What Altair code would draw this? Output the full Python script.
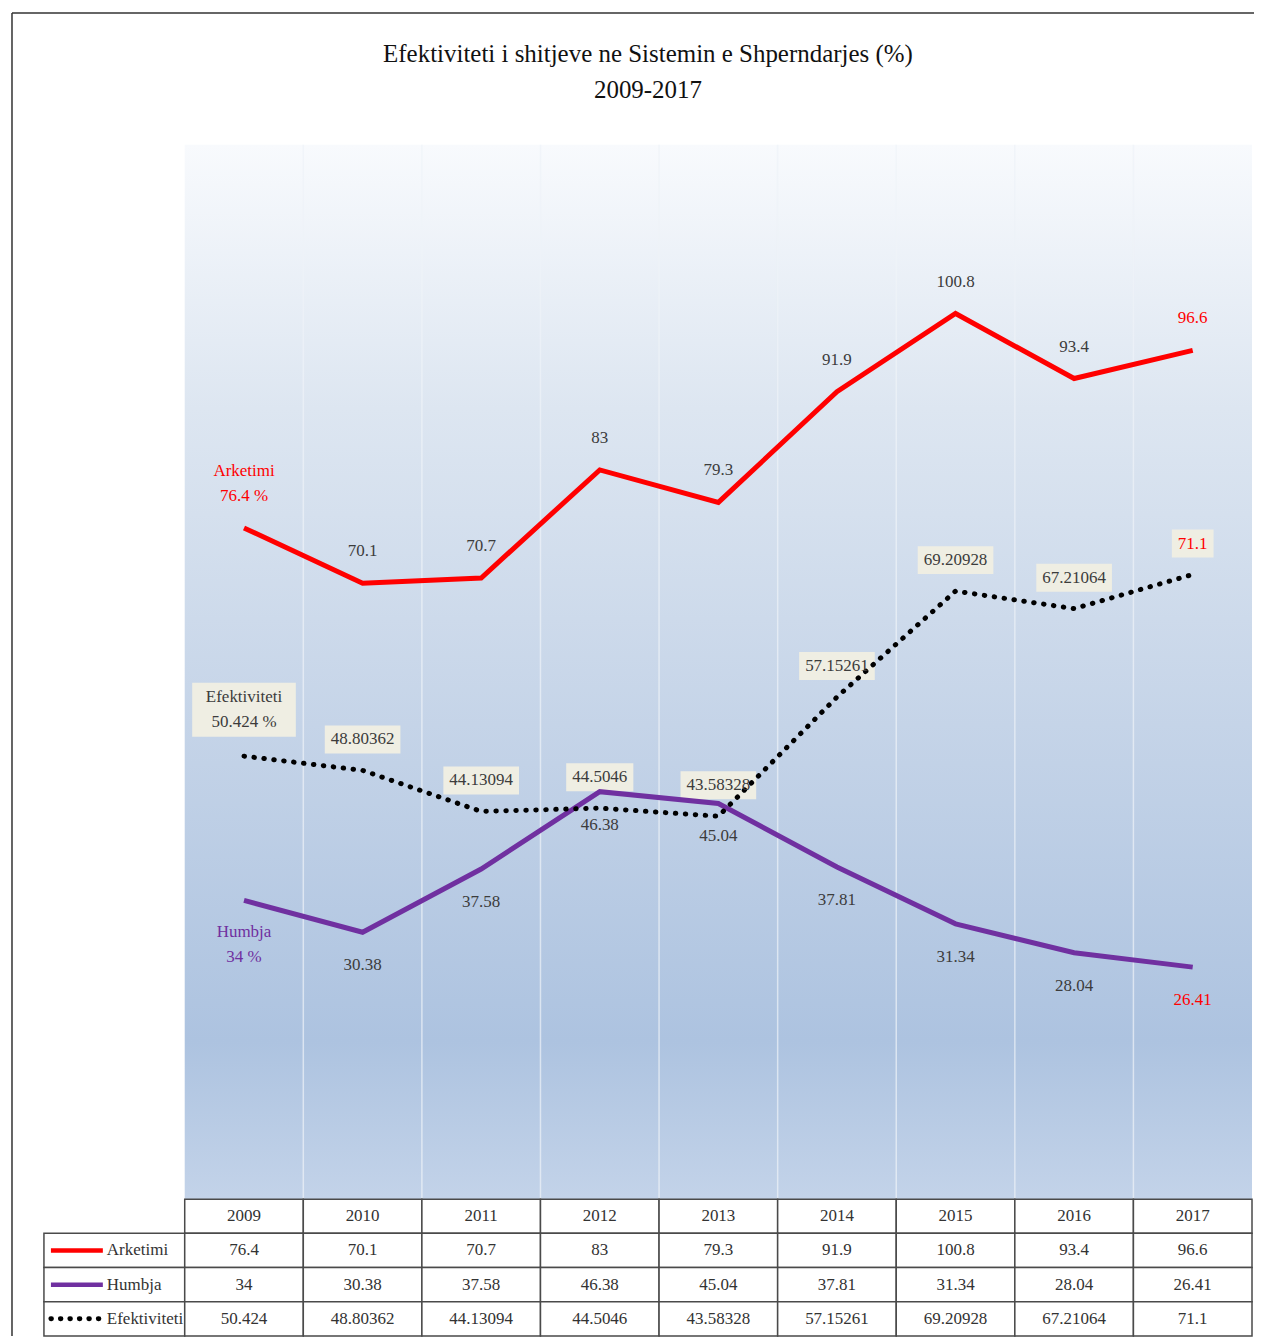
import altair as alt
import pandas as pd

# ---------------- data ----------------
years = [2009, 2010, 2011, 2012, 2013, 2014, 2015, 2016, 2017]
arketimi = [76.4, 70.1, 70.7, 83, 79.3, 91.9, 100.8, 93.4, 96.6]
humbja = [34, 30.38, 37.58, 46.38, 45.04, 37.81, 31.34, 28.04, 26.41]
efektiviteti = [50.424, 48.80362, 44.13094, 44.5046, 43.58328, 57.15261, 69.20928, 67.21064, 71.1]
series_names = ["Arketimi", "Humbja", "Efektiviteti"]
title_lines = ["Efektiviteti i shitjeve ne Sistemin e Shperndarjes (%)", "2009-2017"]

# ---------------- style ----------------
RED = "#FF0000"
PURPLE = "#7030A0"
BLACK = "#000000"
LABEL = "#3c3c3c"
TABLE_TXT = "#333333"
BOX = "#EFEEE3"
FONT = "Liberation Serif"
DOT_DASH = [0.5, 9.5]
SYM_DASH = [0.5, 9]

# ---------------- geometry (pixels) ----------------
YEAR_COL_PX = 1069 / 9
LABEL_COL_PX = 141
PY = 8.8           # px per percentage point
ROW_PX = 34.25
Y_TOP = 120

X0 = years[0] - 0.5
X1 = years[-1] + 0.5
XMIN = X0 - LABEL_COL_PX / YEAR_COL_PX
ROW = ROW_PX / PY
YMIN = -4 * ROW
W = round((X1 - XMIN) * YEAR_COL_PX)
H = round((Y_TOP - YMIN) * PY)

xs = alt.Scale(domain=[XMIN, X1], nice=False, zero=False)
ys = alt.Scale(domain=[YMIN, Y_TOP], nice=False, zero=False)
X = lambda f="x": alt.X(f"{f}:Q", scale=xs, axis=None)
Y = lambda f="y": alt.Y(f"{f}:Q", scale=ys, axis=None)


def fmt(v):
    return ("%.6f" % v).rstrip("0").rstrip(".")


CW = {"0": .5, "1": .5, "2": .5, "3": .5, "4": .5, "5": .5, "6": .5, "7": .5, "8": .5, "9": .5,
      ".": .25, " ": .25, "%": .833}


def text_w(s, size):
    return sum(CW.get(ch, .45) for ch in s) * size


series_vals = [arketimi, humbja, efektiviteti]

# ---------------- background ----------------
bg_df = pd.DataFrame({"x": [X0], "x2": [X1], "y": [0], "y2": [Y_TOP]})
grad = alt.LinearGradient(
    gradient="linear",
    stops=[alt.GradientStop(color="#f8fafd", offset=0),
           alt.GradientStop(color="#dde6f1", offset=0.25),
           alt.GradientStop(color="#c5d4e8", offset=0.55),
           alt.GradientStop(color="#adc3e0", offset=0.85),
           alt.GradientStop(color="#c3d3e9", offset=1)],
    x1=0, x2=0, y1=0, y2=1)
bg = alt.Chart(bg_df).mark_rect(color=grad).encode(
    x=X(), x2="x2:Q", y=Y(), y2="y2:Q")

grid_df = pd.DataFrame({"x": [yr + 0.5 for yr in years[:-1]], "y": 0, "y2": Y_TOP})
grid = alt.Chart(grid_df).mark_rule(color="#eef2f8", strokeWidth=1.5, opacity=0.7).encode(
    x=X(), y=Y(), y2="y2:Q")

# ---------------- lines ----------------
def line_df(vals):
    return pd.DataFrame({"x": years, "y": vals})

line_a = alt.Chart(line_df(arketimi)).mark_line(color=RED, strokeWidth=5).encode(x=X(), y=Y())
line_h = alt.Chart(line_df(humbja)).mark_line(color=PURPLE, strokeWidth=5).encode(x=X(), y=Y())
line_e = alt.Chart(line_df(efektiviteti)).mark_line(
    color=BLACK, strokeWidth=5, strokeDash=DOT_DASH, strokeCap="round").encode(x=X(), y=Y())

# ---------------- labels ----------------
label_cfg = [
    # series index, offset of value labels, offset of first value, offset of name line, first colour, value colour
    (0, -32, -32, -57, RED, LABEL),
    (1, 33, 57, 32, PURPLE, LABEL),
    (2, -31, -34, -59, LABEL, LABEL),
]
LBL_SIZE = 17

layers_boxes = []
layers_text = []
for si, dy, first_dy, dy_name, first_c, mid_c in label_cfg:
    vals = series_vals[si]
    rows = []
    for i, (yr, v) in enumerate(zip(years, vals)):
        if i == 0:
            txt = fmt(v) + " %"
            c = first_c
        else:
            txt = fmt(v)
            c = RED if i == len(years) - 1 else mid_c
        rows.append({"x": yr, "y": v, "t": txt, "c": c})
    df = pd.DataFrame(rows)
    # boxes for Efektiviteti
    if si == 2:
        box_rows = []
        for i, r in enumerate(rows):
            if i == 0:
                wpx = max(text_w(r["t"], LBL_SIZE), text_w(series_names[si], LBL_SIZE)) + 12
                cy, hh = (first_dy + dy_name) / 2, 27
            else:
                wpx = text_w(r["t"], LBL_SIZE) + 12
                cy, hh = dy, 14
            box_rows.append({"x": r["x"] - wpx / 2 / YEAR_COL_PX,
                             "x2": r["x"] + wpx / 2 / YEAR_COL_PX,
                             "y": r["y"] - (cy - hh) / PY,
                             "y2": r["y"] - (cy + hh) / PY})
        layers_boxes.append(alt.Chart(pd.DataFrame(box_rows)).mark_rect(color=BOX).encode(
            x=X(), x2="x2:Q", y=Y(), y2="y2:Q"))
    common = dict(font=FONT, fontSize=LBL_SIZE, baseline="middle", align="center")
    layers_text.append(alt.Chart(df.iloc[1:]).mark_text(dy=dy, **common).encode(
        x=X(), y=Y(), text="t:N", color=alt.Color("c:N", scale=None)))
    layers_text.append(alt.Chart(df.iloc[:1]).mark_text(dy=first_dy, **common).encode(
        x=X(), y=Y(), text="t:N", color=alt.Color("c:N", scale=None)))
    name_df = pd.DataFrame({"x": [years[0]], "y": [vals[0]], "t": [series_names[si]], "c": [first_c]})
    layers_text.append(alt.Chart(name_df).mark_text(dy=dy_name, **common).encode(
        x=X(), y=Y(), text="t:N", color=alt.Color("c:N", scale=None)))

# ---------------- data table ----------------
cells = []
for yr in years:
    cells.append({"x": yr - 0.5, "x2": yr + 0.5, "y": -ROW, "y2": 0})
for k in range(1, 4):
    cells.append({"x": XMIN, "x2": X0, "y": -(k + 1) * ROW, "y2": -k * ROW})
    for yr in years:
        cells.append({"x": yr - 0.5, "x2": yr + 0.5, "y": -(k + 1) * ROW, "y2": -k * ROW})
cells_chart = alt.Chart(pd.DataFrame(cells)).mark_rect(
    fill="white", stroke="#4a4a4a", strokeWidth=1.5).encode(x=X(), x2="x2:Q", y=Y(), y2="y2:Q")

tt = [{"x": yr, "y": -0.5 * ROW, "t": str(yr)} for yr in years]
for k, vals in enumerate(series_vals, start=1):
    for yr, v in zip(years, vals):
        tt.append({"x": yr, "y": -(k + 0.5) * ROW, "t": fmt(v)})
table_text = alt.Chart(pd.DataFrame(tt)).mark_text(
    font=FONT, fontSize=17, color=TABLE_TXT, baseline="middle", align="center").encode(
    x=X(), y=Y(), text="t:N")

name_x = XMIN + 63 / YEAR_COL_PX
names_df = pd.DataFrame({"x": name_x, "y": [-(k + 1.5) * ROW for k in range(3)], "t": series_names})
table_names = alt.Chart(names_df).mark_text(
    font=FONT, fontSize=17, color=TABLE_TXT, baseline="middle", align="left").encode(
    x=X(), y=Y(), text="t:N")

sym_x1 = XMIN + 7 / YEAR_COL_PX
sym_x2 = XMIN + 59 / YEAR_COL_PX
sym_a = alt.Chart(pd.DataFrame({"x": [sym_x1], "x2": [sym_x2], "y": [-1.5 * ROW]})).mark_rule(
    color=RED, strokeWidth=4.5).encode(x=X(), x2="x2:Q", y=Y())
sym_h = alt.Chart(pd.DataFrame({"x": [sym_x1], "x2": [sym_x2], "y": [-2.5 * ROW]})).mark_rule(
    color=PURPLE, strokeWidth=4.5).encode(x=X(), x2="x2:Q", y=Y())
sym_e = alt.Chart(pd.DataFrame({"x": [sym_x1], "x2": [sym_x2], "y": [-3.5 * ROW]})).mark_rule(
    color=BLACK, strokeWidth=5, strokeDash=SYM_DASH, strokeCap="round").encode(x=X(), x2="x2:Q", y=Y())

# ---------------- title (two centred lines above the plot) ----------------
one = pd.DataFrame({"a": [0]})
title_layers = []
for line, ty in zip(title_lines, [-91, -55]):
    title_layers.append(alt.Chart(one).mark_text(
        text=line, font=FONT, fontSize=25, color="#111111", align="center", baseline="middle").encode(
        x=alt.value(W / 2), y=alt.value(ty)))

# ---------------- outer frame (top & left edges) ----------------
frame_top = alt.Chart(one).mark_rule(color="#333333", strokeWidth=1.5).encode(
    x=alt.value(-32), x2=alt.value(W + 2), y=alt.value(-132))
frame_left = alt.Chart(one).mark_rule(color="#333333", strokeWidth=1.5).encode(
    x=alt.value(-32), y=alt.value(-132), y2=alt.value(H))

chart = alt.layer(
    bg, grid, *layers_boxes, line_a, line_h, line_e, *layers_text,
    cells_chart, table_text, table_names, sym_a, sym_h, sym_e,
    *title_layers, frame_top, frame_left,
).properties(
    width=W, height=H,
    padding={"left": 3, "top": 3, "right": 0, "bottom": 0},
).configure(background="white", view=alt.ViewConfig(stroke=None))

chart.save("out.html", embed_options={"renderer": "svg", "actions": False})
